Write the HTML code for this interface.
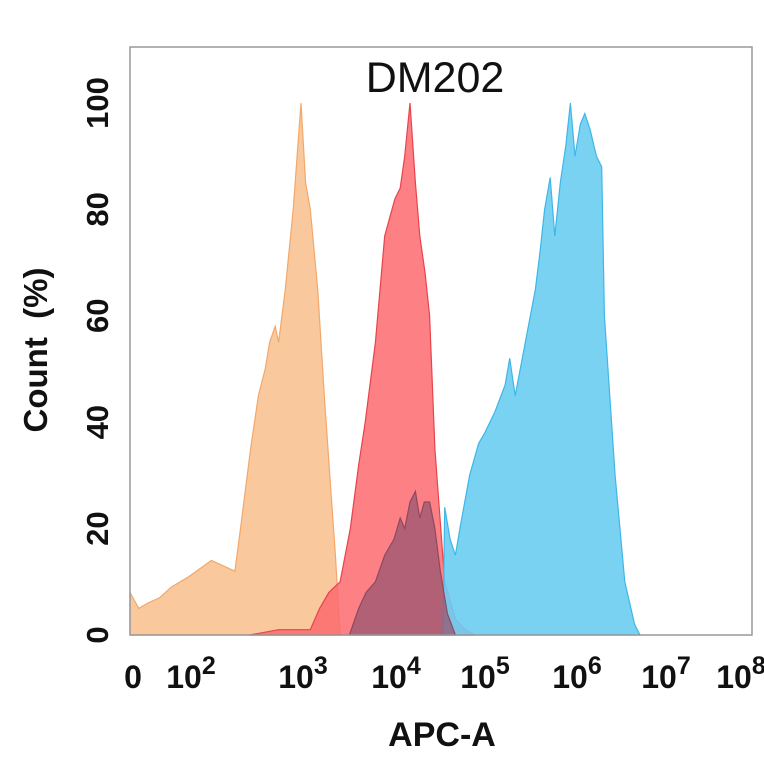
<!DOCTYPE html>
<html><head><meta charset="utf-8"><style>
body{margin:0;background:#fff}
svg{display:block;font-family:"Liberation Sans",Arial,sans-serif}
</style></head><body>
<svg id="chart" width="764" height="764" viewBox="0 0 764 764">
<rect x="0" y="0" width="764" height="764" fill="#fff"/>
<g id="series"></g>
<rect x="130" y="47" width="622" height="588" fill="none" stroke="#999" stroke-width="1.5"/>
<text x="435" y="92" font-size="43" text-anchor="middle" fill="#111">DM202</text>
<g id="yticks"></g><g id="xticks"></g>
<text transform="translate(47,350) rotate(-90)" font-size="33" font-weight="bold" text-anchor="middle" fill="#111" xml:space="preserve">Count  (%)</text>
<text x="442" y="746" font-size="34" font-weight="bold" text-anchor="middle" fill="#111">APC-A</text>
</svg>
<script>
const xDecades=[0,2,3,4,5,6,7,8];
const yTicks=[0,20,40,60,80,100];
const orangeX=[0,0.3,0.6,1.0,1.4,1.7,2.0,2.2,2.41,2.46,2.55,2.62,2.68,2.72,2.77,2.8,2.86,2.93,3.0,3.05,3.1,3.18,3.25,3.31,3.37,3.42];
const orangeY=[8,5,6,7,9,10,11,14,12,20,35,45,50,55,58,55,65,80,100,85,80,65,45,30,15,0];
const redX=[2.54,2.8,3.1,3.2,3.3,3.42,3.53,3.62,3.69,3.8,3.9,4.01,4.07,4.12,4.18,4.24,4.29,4.35,4.4,4.46,4.57,4.69,4.8,4.91];
const redY=[0,1,1,5,8,10,20,32,40,55,75,82,84,90,100,85,75,68,60,35,10,3,1,0];
const mauveX=[3.52,3.62,3.7,3.8,3.9,4.0,4.07,4.12,4.18,4.24,4.29,4.34,4.4,4.46,4.52,4.6,4.69];
const mauveY=[0,5,8,10,15,18,22,20,25,27,22,25,25,20,12,4,0];
const blueX=[4.55,4.57,4.63,4.69,4.74,4.85,4.95,5.02,5.13,5.24,5.29,5.35,5.46,5.57,5.62,5.67,5.73,5.78,5.84,5.9,5.95,6.0,6.06,6.11,6.17,6.24,6.3,6.33,6.45,6.56,6.67,6.73];
const blueY=[0,24,18,15,20,30,36,38,42,47,52,45,55,65,72,80,86,75,85,92,100,90,96,98,95,90,88,60,30,10,2,0];
const tickPix=[130,189,301,394,483,575,664,751];
function xs(v){for(let i=0;i<xDecades.length-1;i++){if(v<=xDecades[i+1]){const t=(v-xDecades[i])/(xDecades[i+1]-xDecades[i]);return tickPix[i]+t*(tickPix[i+1]-tickPix[i]);}}return tickPix[tickPix.length-1];}
function ys(v){return 635-v*5.32;}
const NS="http://www.w3.org/2000/svg";
const g=document.getElementById('series');
function area(X,Y,fill,stroke,op,name){
 let d='M'+xs(X[0])+','+ys(0);
 for(let i=0;i<X.length;i++)d+=' L'+xs(X[i]).toFixed(1)+','+ys(Y[i]).toFixed(1);
 d+=' L'+xs(X[X.length-1])+','+ys(0)+' Z';
 const p=document.createElementNS(NS,'path');
 p.setAttribute('d',d);p.setAttribute('fill',fill);p.setAttribute('fill-opacity',op);
 p.setAttribute('stroke',stroke);p.setAttribute('stroke-width','1.2');
 
 
 g.appendChild(p);
}
area(orangeX,orangeY,'#f8bf8c','#f3a76a',0.85,'orange-histogram');
area(redX,redY,'#fb6a6e','#e8434b',0.85,'red-histogram');
area(blueX,blueY,'#6ccdf2','#3fb6e6',0.9,'blue-histogram');
area(mauveX,mauveY,'#9a5670','#8a4a62',0.75,'mauve-histogram');
const yt=document.getElementById('yticks');
yTicks.forEach(v=>{
 const t=document.createElementNS(NS,'text');
 t.setAttribute('transform','translate(108,'+ys(v)+') rotate(-90)');
 t.setAttribute('font-size','31');t.setAttribute('font-weight','bold');t.setAttribute('text-anchor','middle');t.setAttribute('fill','#111');
 t.textContent=v;
 
 
 yt.appendChild(t);
});
const xt=document.getElementById('xticks');
xDecades.forEach((v,i)=>{
 const t=document.createElementNS(NS,'text');
 const x=xs(v)+(i===0?3:(i===xDecades.length-1?-10:2));
 t.setAttribute('x',x);t.setAttribute('y',688);
 t.setAttribute('font-size','32');t.setAttribute('font-weight','bold');t.setAttribute('text-anchor','middle');t.setAttribute('fill','#111');
 if(v===0){t.textContent='0';}else{
  t.textContent='10';
  const s=document.createElementNS(NS,'tspan');s.setAttribute('dy','-14');s.setAttribute('font-size','25');s.textContent=v;t.appendChild(s);
 }
 
 
 xt.appendChild(t);
});
</script>
</body></html>
